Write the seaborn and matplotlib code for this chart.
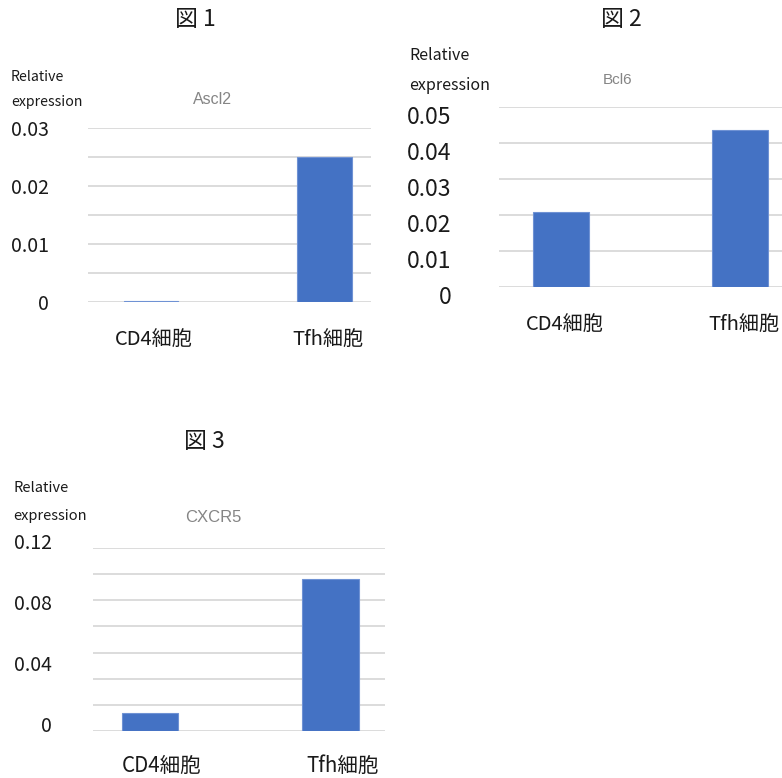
import matplotlib
matplotlib.use("Agg")
import matplotlib.pyplot as plt
import matplotlib.transforms as mtransforms
import numpy as np
import pandas as pd
import seaborn as sns

# ---- data ----
cells = ["CD4細胞", "Tfh細胞"]
genes = ["Ascl2", "Bcl6", "CXCR5"]
figure_titles = ["図 1", "図 2", "図 3"]

ascl2_values = [0.0001, 0.025]
bcl6_values = [0.0209, 0.0435]
cxcr5_values = [0.0116, 0.0997]

ascl2_ticks = [0, 0.01, 0.02, 0.03]
ascl2_tick_labels = ["0", "0.01", "0.02", "0.03"]
bcl6_ticks = [0, 0.01, 0.02, 0.03, 0.04, 0.05]
bcl6_tick_labels = ["0", "0.01", "0.02", "0.03", "0.04", "0.05"]
cxcr5_ticks = [0, 0.04, 0.08, 0.12]
cxcr5_tick_labels = ["0", "0.04", "0.08", "0.12"]

y_label_lines = ["Relative", "expression"]

# ---- style ----
sns.set_theme(style="white")
plt.rcParams["font.family"] = ["Noto Sans CJK JP", "DejaVu Sans"]

BAR = "#4472C4"
GRID = "#D9D9D9"
GENE_GREY = "#858585"
INK = "#1a1a1a"

W, H = 782, 778
DPI = 100
fig = plt.figure(figsize=(W / DPI, H / DPI), dpi=DPI)


def px_axes(left, top, right, bottom):
    return fig.add_axes([left / W, 1 - bottom / H, (right - left) / W, (bottom - top) / H])


def ftext(x, y, s, **kw):
    fig.text(x / W, 1 - y / H, s, **kw)


panels = [
    dict(values=ascl2_values, ticks=ascl2_ticks, labels=ascl2_tick_labels,
         box=(88, 128, 371, 302), ylim=0.03, ngrid=7, xlim=(-0.363, 1.268),
         tick_fs=14, tick_dy=0, tick_pad=28, xpad=20, xdx=3, xfs=14.5,
         title_xy=(195, 20), rel_xy=(11, 77, 102), rel_fs=10.2,
         gene_xy=(212, 100), gene_fs=11.5),
    dict(values=bcl6_values, ticks=bcl6_ticks, labels=bcl6_tick_labels,
         box=(499, 107, 895, 287), ylim=0.05, ngrid=6, xlim=(-0.349, 1.87),
         tick_fs=16.5, tick_dy=-8, tick_pad=34, xpad=20, xdx=4, xfs=14.5,
         title_xy=(621, 20), rel_xy=(409, 55, 85), rel_fs=11.5,
         gene_xy=(618, 80), gene_fs=11),
    dict(values=cxcr5_values, ticks=cxcr5_ticks, labels=cxcr5_tick_labels,
         box=(92.7, 548, 385, 731), ylim=0.12, ngrid=8, xlim=(-0.317, 1.30),
         tick_fs=14, tick_dy=7, tick_pad=29.5, xpad=17, xdx=12, xfs=14.8,
         title_xy=(204, 442), rel_xy=(13, 488, 516), rel_fs=10.5,
         gene_xy=(213, 518), gene_fs=12),
]

for gene, ftitle, p in zip(genes, figure_titles, panels):
    ax = px_axes(*p["box"])
    df = pd.DataFrame({"cell": cells, "value": p["values"]})
    sns.barplot(data=df, x="cell", y="value", color=BAR, width=0.315,
                edgecolor="#6F92D4", linewidth=0.8, saturation=1, ax=ax)
    ax.set_xlim(*p["xlim"])
    ax.set_ylim(0, p["ylim"])

    # light horizontal gridlines
    for g in np.linspace(0, p["ylim"], p["ngrid"]):
        ax.axhline(g, color=GRID, lw=1.3, zorder=0)

    ax.set_yticks(p["ticks"])
    ax.set_yticklabels(p["labels"], fontsize=p["tick_fs"], color=INK)
    ax.tick_params(axis="y", length=0, pad=p["tick_pad"])
    ax.tick_params(axis="x", length=0, pad=p["xpad"], labelsize=p["xfs"], labelcolor=INK)
    yoff = mtransforms.ScaledTranslation(0, p["tick_dy"] / DPI, fig.dpi_scale_trans)
    for lab in ax.get_yticklabels():
        lab.set_transform(lab.get_transform() + yoff)
    xoff = mtransforms.ScaledTranslation(p["xdx"] / DPI, 0, fig.dpi_scale_trans)
    for lab in ax.get_xticklabels():
        lab.set_transform(lab.get_transform() + xoff)
    ax.set_xlabel("")
    ax.set_ylabel("")
    for s in ax.spines.values():
        s.set_visible(False)
    ax.grid(False)
    ax.set_facecolor("none")

    tx, ty = p["title_xy"]
    ftext(tx, ty, ftitle, fontsize=16.5, ha="center", va="center", color=INK)
    rx, r1, r2 = p["rel_xy"]
    ftext(rx, r1, y_label_lines[0], fontsize=p["rel_fs"], ha="left", va="center", color=INK)
    ftext(rx, r2, y_label_lines[1], fontsize=p["rel_fs"], ha="left", va="center", color=INK)
    gx, gy = p["gene_xy"]
    ftext(gx, gy, gene, fontsize=p["gene_fs"], ha="center", va="center", color=GENE_GREY,
          family=["Liberation Sans", "DejaVu Sans"])

fig.savefig("out.png", dpi=DPI)
